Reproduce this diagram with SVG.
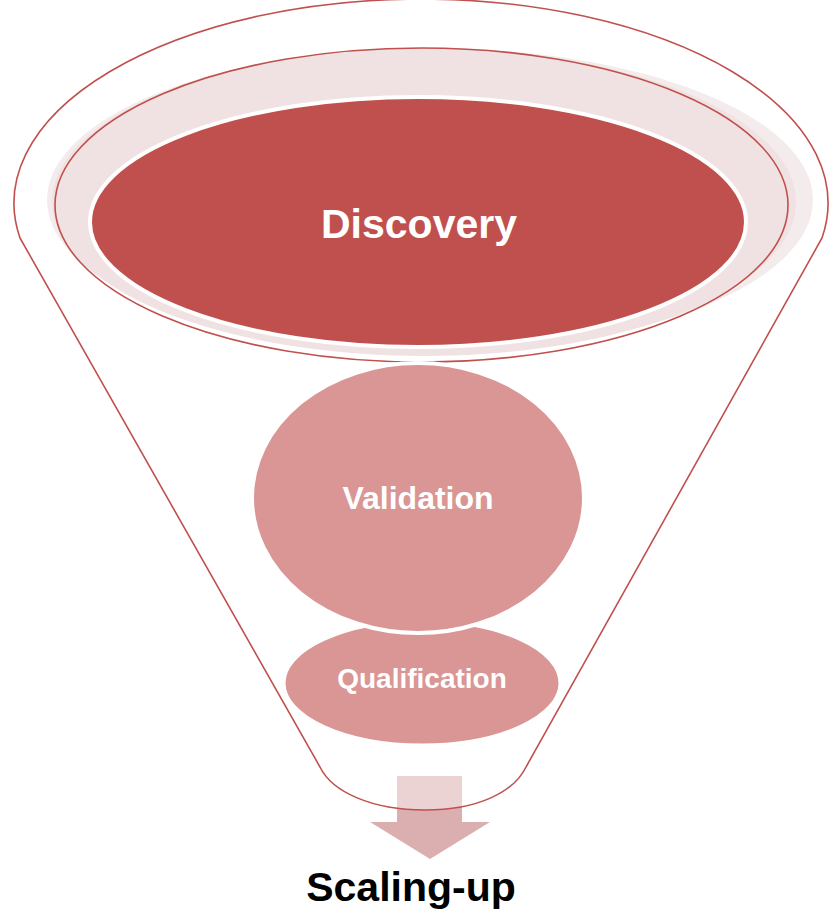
<svg xmlns="http://www.w3.org/2000/svg" width="829" height="911" viewBox="0 0 829 911">
<style>
.line{fill:none;stroke:#C0504D;stroke-width:1.6}
.lbl{font-family:"Liberation Sans",Arial,sans-serif;font-weight:bold;fill:#FFFFFF;text-anchor:middle}
</style>
<rect width="829" height="911" fill="#FFFFFF"/>
<g id="arrow">
<polygon points="397,776 462,776 462,822 490,822 430,859 370,822 397,822" fill="#DBAFAF"/>
</g>
<g id="funnel">
<path d="M20,238 L320,767 C332,792 372,810 425,810 C478,810 514,792 526,767 L822,238 A407,204 0 1 0 20,238 Z" fill="#FFFFFF" fill-opacity="0.45" stroke="#C0504D" stroke-width="1.6"/>
</g>
<g id="ring">
<ellipse cx="430" cy="200" rx="383" ry="152" fill="#F4ECEC"/>
<ellipse cx="424" cy="202" rx="372" ry="154" fill="#F0E2E2"/>
<ellipse cx="421.5" cy="205" rx="366.5" ry="157" class="line"/>
</g>
<g id="discovery">
<ellipse cx="418" cy="222" rx="328" ry="125" fill="#C0504D" stroke="#FFFFFF" stroke-width="4"/>
<text x="419" y="238" class="lbl" font-size="41">Discovery</text>
</g>
<g id="qualification">
<ellipse cx="422" cy="683" rx="138" ry="62" fill="#D99694" stroke="#FFFFFF" stroke-width="3"/>
<text x="422" y="688" class="lbl" font-size="28">Qualification</text>
</g>
<g id="validation">
<ellipse cx="418" cy="498" rx="166" ry="135" fill="#D99694" stroke="#FFFFFF" stroke-width="4"/>
<text x="418" y="509" class="lbl" font-size="32">Validation</text>
</g>
<g id="scaling">
<text x="411" y="901" font-family="Liberation Sans,Arial,sans-serif" font-weight="bold" font-size="41" fill="#000000" text-anchor="middle">Scaling-up</text>
</g>
</svg>
